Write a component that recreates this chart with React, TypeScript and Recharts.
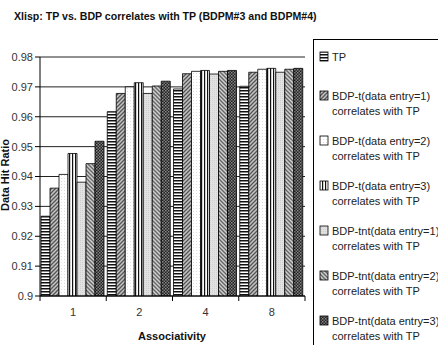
import React from 'react';
import { BarChart, Bar, XAxis, YAxis, CartesianGrid } from 'recharts';

// associativity levels on the x axis
const categories = ['1', '2', '4', '8'];

// data hit ratio per configuration
const tp = [0.9267, 0.9617, 0.9693, 0.9702];
const bdpT1 = [0.9361, 0.9678, 0.9744, 0.9749];
const bdpT2 = [0.9407, 0.97, 0.9752, 0.9759];
const bdpT3 = [0.9477, 0.9714, 0.9755, 0.9762];
const bdpTnt1 = [0.9381, 0.9678, 0.9743, 0.9749];
const bdpTnt2 = [0.9443, 0.9703, 0.9752, 0.9759];
const bdpTnt3 = [0.9518, 0.9719, 0.9755, 0.9762];

const yTicks = [0.9, 0.91, 0.92, 0.93, 0.94, 0.95, 0.96, 0.97, 0.98];

const data = categories.map((c, i) => ({
  assoc: c,
  tp: tp[i],
  t1: bdpT1[i],
  t2: bdpT2[i],
  t3: bdpT3[i],
  tnt1: bdpTnt1[i],
  tnt2: bdpTnt2[i],
  tnt3: bdpTnt3[i],
}));

const series = [
  { key: 'tp', fill: 'url(#p-tp)', name: ['TP'] },
  { key: 't1', fill: 'url(#p-t1)', name: ['BDP-t(data entry=1)', 'correlates with TP'] },
  { key: 't2', fill: 'url(#p-t2)', name: ['BDP-t(data entry=2)', 'correlates with TP'] },
  { key: 't3', fill: 'url(#p-t3)', name: ['BDP-t(data entry=3)', 'correlates with TP'] },
  { key: 'tnt1', fill: 'url(#p-tnt1)', name: ['BDP-tnt(data entry=1)', 'correlates with TP'] },
  { key: 'tnt2', fill: 'url(#p-tnt2)', name: ['BDP-tnt(data entry=2)', 'correlates with TP'] },
  { key: 'tnt3', fill: 'url(#p-tnt3)', name: ['BDP-tnt(data entry=3)', 'correlates with TP'] },
];

const FONT = '"Liberation Sans", Arial, sans-serif';
const PLOT_LEFT = 40;
const PLOT_RIGHT = 305;
const HALF_BAND = (PLOT_RIGHT - PLOT_LEFT) / categories.length / 2;

const Patterns = () => (
  <defs>
    <pattern id="p-tp" width="4" height="3" patternUnits="userSpaceOnUse">
      <rect width="4" height="3" fill="#fff" />
      <rect width="4" height="1.5" fill="#111" />
    </pattern>
    <pattern id="p-t1" width="4" height="4" patternUnits="userSpaceOnUse">
      <rect width="4" height="4" fill="#c4c4c4" />
      <path d="M0 4 L4 0 M-1 1 L1 -1 M3 5 L5 3" stroke="#555" strokeWidth="1.3" />
    </pattern>
    <pattern id="p-t2" width="3" height="3" patternUnits="userSpaceOnUse">
      <rect width="3" height="3" fill="#fff" />
      <rect x="1" y="1" width="1" height="1" fill="#ddd" />
    </pattern>
    <pattern id="p-t3" width="3" height="4" patternUnits="userSpaceOnUse">
      <rect width="3" height="4" fill="#fff" />
      <rect width="1.2" height="4" fill="#111" />
    </pattern>
    <pattern id="p-tnt1" width="2" height="2" patternUnits="userSpaceOnUse">
      <rect width="2" height="2" fill="#e2e2e2" />
      <rect width="1" height="1" fill="#cfcfcf" />
    </pattern>
    <pattern id="p-tnt2" width="4" height="4" patternUnits="userSpaceOnUse">
      <rect width="4" height="4" fill="#d0d0d0" />
      <path d="M0 0 L4 4 M-1 3 L1 5 M3 -1 L5 1" stroke="#666" strokeWidth="1.4" />
    </pattern>
    <pattern id="p-tnt3" width="3" height="3" patternUnits="userSpaceOnUse">
      <rect width="3" height="3" fill="#222" />
      <rect width="1.5" height="1.5" fill="#888" />
      <rect x="1.5" y="1.5" width="1.5" height="1.5" fill="#777" />
    </pattern>
  </defs>
);

// category label plus tick marks on the band boundaries
const XTick = (props: any) => {
  const { x, y, payload, index } = props;
  return (
    <g>
      <line x1={x - HALF_BAND} x2={x - HALF_BAND} y1={y} y2={y + 5} stroke="#000" />
      {index === categories.length - 1 && (
        <line x1={x + HALF_BAND} x2={x + HALF_BAND} y1={y} y2={y + 5} stroke="#000" />
      )}
      <text x={x} y={y + 20} textAnchor="middle" fontSize={11} fill="#333" fontFamily={FONT}>
        {payload.value}
      </text>
    </g>
  );
};

const LegendBox = () => {
  const rows = [57, 96, 141, 186, 231, 276, 321];
  return (
    <div
      style={{
        position: 'absolute',
        left: 313,
        top: 39,
        width: 160,
        height: 330,
        border: '1px solid #000',
        background: '#fff',
      }}
    >
      <svg width={160} height={330} style={{ position: 'absolute', left: -1, top: -1 }}>
        {series.map((s, i) => {
          const cy = rows[i] - 39;
          return (
            <g key={s.key}>
              <rect x={7} y={cy - 5} width={8} height={9} fill={s.fill} stroke="#000" strokeWidth={0.8} />
              {s.name.map((line, j) => (
                <text
                  key={j}
                  x={19}
                  y={cy + 4 + j * 15}
                  fontSize={11}
                  fill="#222"
                  fontFamily={FONT}
                >
                  {line}
                </text>
              ))}
            </g>
          );
        })}
      </svg>
    </div>
  );
};

export default function App() {
  return (
    <div
      style={{
        position: 'absolute',
        left: 0,
        top: 0,
        width: 438,
        height: 345,
        overflow: 'hidden',
        background: '#fff',
        fontFamily: FONT,
      }}
    >
      <div
        style={{
          position: 'absolute',
          left: 14,
          top: 10,
          fontSize: 10.6,
          fontWeight: 'bold',
          color: '#111',
          whiteSpace: 'nowrap',
        }}
      >
        Xlisp: TP vs. BDP correlates with TP (BDPM#3 and BDPM#4)
      </div>

      <BarChart
        width={438}
        height={345}
        data={data}
        margin={{ top: 57, right: 133, bottom: 19, left: 0 }}
        barCategoryGap={1}
        barGap={0}
        style={{ position: 'absolute', left: 0, top: 0 }}
      >
        <Patterns />
        <CartesianGrid vertical={false} stroke="#222" strokeWidth={1} />
        <XAxis
          dataKey="assoc"
          height={30}
          axisLine={{ stroke: '#000' }}
          tickLine={false}
          tickSize={0}
          tickMargin={0}
          tick={<XTick />}
          interval={0}
        />
        <YAxis
          width={40}
          domain={[0.9, 0.98]}
          ticks={yTicks}
          allowDataOverflow
          axisLine={{ stroke: '#000' }}
          tickLine={{ stroke: '#000' }}
          tickSize={5}
          tickMargin={2}
          tick={{ fontSize: 11, fill: '#333', fontFamily: FONT }}
          tickFormatter={(v: number) => String(Number(v.toFixed(2)))}
        />
        {series.map((s) => (
          <Bar
            key={s.key}
            dataKey={s.key}
            fill={s.fill}
            stroke="#000"
            strokeWidth={0.8}
            isAnimationActive={false}
          />
        ))}
      </BarChart>

      <div
        style={{
          position: 'absolute',
          left: 5,
          top: 175,
          transform: 'translate(-50%, -50%) rotate(-90deg)',
          fontSize: 11,
          fontWeight: 'bold',
          color: '#111',
          whiteSpace: 'nowrap',
        }}
      >
        Data Hit Ratio
      </div>

      <div
        style={{
          position: 'absolute',
          left: 172,
          top: 336,
          transform: 'translate(-50%, -50%)',
          fontSize: 11,
          fontWeight: 'bold',
          color: '#111',
          whiteSpace: 'nowrap',
        }}
      >
        Associativity
      </div>

      <LegendBox />
    </div>
  );
}
